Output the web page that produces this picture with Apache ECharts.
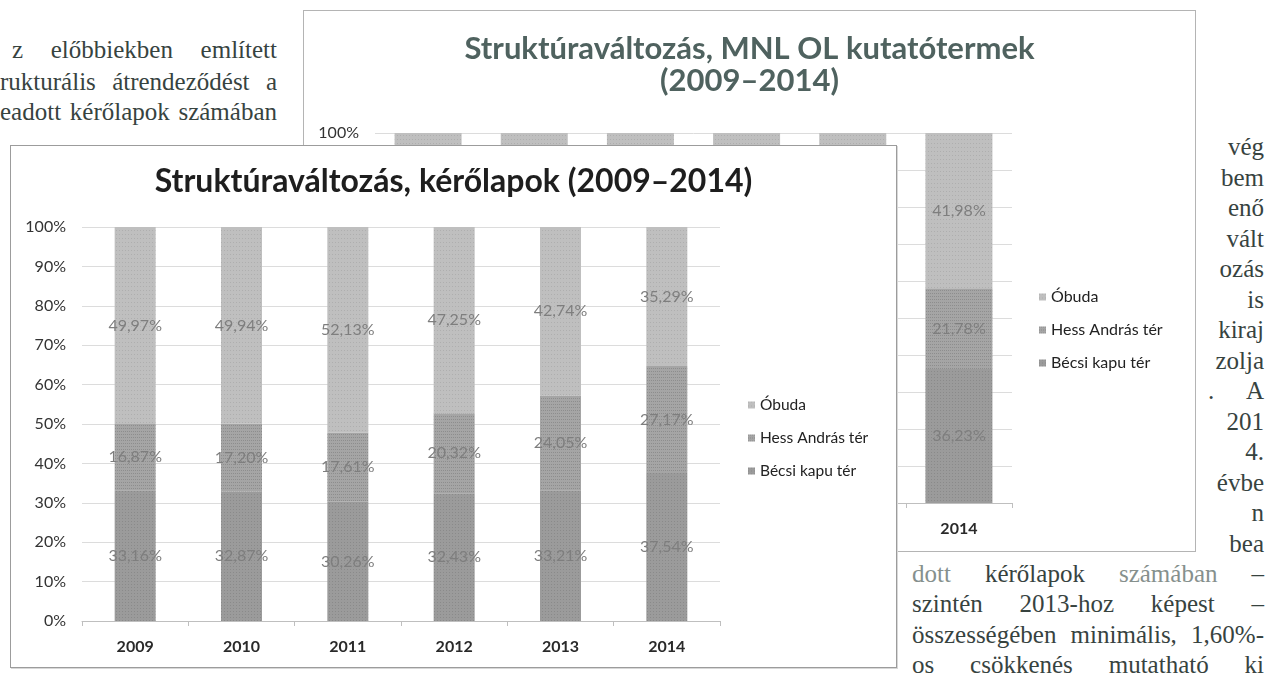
<!DOCTYPE html>
<html>
<head>
<meta charset="utf-8">
<script src="https://cdn.jsdelivr.net/npm/echarts@6/dist/echarts.min.js"></script>
<style>
  html, body { margin: 0; padding: 0; background: #fff; }
  #page { position: relative; width: 1270px; height: 693px; overflow: hidden; background: #fff; }
  .txt { position: absolute; font-family: 'Liberation Serif', serif; font-size: 25px; line-height: 30px;
         color: #37433f; white-space: nowrap; }
  .j { text-align: justify; text-align-last: justify; }
  .r { text-align: right; }
  .pale { color: #86908d; }
  #back { position: absolute; left: 303px; top: 10px; width: 893px; height: 542px;
          box-sizing: border-box; border: 1px solid #b4b4b4; background: #fff; }
  #front { position: absolute; left: 10px; top: 145px; width: 887px; height: 523px;
           box-sizing: border-box; border: 1px solid #9c9c9c; background: #fff;
           box-shadow: 1px 1px 0 #d8d8d8; }
</style>
</head>
<body>
<div id="page">
  <!-- folyószöveg a képek körül -->
  <div class="txt j" style="left:12px; top:35px; width:265px;">z előbbiekben említett</div>
  <div class="txt j" style="left:0px; top:67px; width:277px;">rukturális átrendeződést a</div>
  <div class="txt j" style="left:0px; top:97px; width:277px;">eadott kérőlapok számában</div>

  <div id="rightcol"></div>

  <div class="txt j" style="left:912px; top:559px; width:352px;"><span class="pale">dott</span> kérőlapok <span class="pale">számában</span> –</div>
  <div class="txt j" style="left:912px; top:589px; width:352px;">szintén 2013-hoz képest –</div>
  <div class="txt j" style="left:912px; top:620px; width:352px;">összességében minimális, 1,60%-</div>
  <div class="txt j" style="left:912px; top:650px; width:352px;">os csökkenés mutatható ki</div>

  <div id="back"></div>
  <div id="front"></div>
</div>

<script>
// évek
const years = ['2009', '2010', '2011', '2012', '2013', '2014'];

// kérőlapok (elől lévő ábra), %
const becsiKapu = [33.16, 32.87, 30.26, 32.43, 33.21, 37.54];
const hessAndras = [16.87, 17.20, 17.61, 20.32, 24.05, 27.17];
const obuda = [49.97, 49.94, 52.13, 47.25, 42.74, 35.29];

// MNL OL kutatótermek (hátsó ábra), %; 2009-2013 takarva, becsült
const olBecsiKapu = [33.0, 33.5, 32.0, 33.5, 34.5, 36.23];
const olHessAndras = [17.0, 17.5, 18.5, 19.5, 21.0, 21.78];
const olObuda = [50.0, 49.0, 49.5, 47.0, 44.5, 41.98];

const seriesNames = ['Bécsi kapu tér', 'Hess András tér', 'Óbuda'];
const legendOrder = ['Óbuda', 'Hess András tér', 'Bécsi kapu tér'];

// jobb oldali keskeny hasáb sorai
const rightLines = ['vég', 'bem', 'enő', 'vált', 'ozás', 'is', 'kiraj', 'zolja', '. A', '201', '4.', 'évbe', 'n', 'bea'];

const rightCol = document.getElementById('rightcol');
rightLines.forEach((w, i) => {
    const d = document.createElement('div');
    d.className = 'txt ' + (w === '. A' ? 'j' : 'r');
    d.style.left = '1208px';
    d.style.width = '56px';
    d.style.top = (132 + i * 30.5) + 'px';
    d.textContent = w;
    rightCol.appendChild(d);
});

const colors = ['#9b9b9b', '#a5a5a5', '#bfbfbf'];
const decals = [
    { symbol: 'rect', symbolSize: 1, dashArrayX: [1, 2], dashArrayY: [1, 2], color: 'rgba(60,60,60,0.18)' },
    { symbol: 'rect', symbolSize: 1, dashArrayX: [1, 1], dashArrayY: [1, 2], color: 'rgba(60,60,60,0.22)' },
    { symbol: 'rect', symbolSize: 1, dashArrayX: [1, 2], dashArrayY: [1, 3], color: 'rgba(80,80,80,0.15)' }
];

const fmtPct = p => p.value.toFixed(2).replace('.', ',') + '%';

// egy halmozott oszlopsorozat
const makeSeries = (name, data, i, barWidth) => ({
    name,
    type: 'bar',
    stack: 'total',
    barWidth,
    data,
    itemStyle: { color: colors[i], decal: decals[i] },
    label: {
        show: true,
        position: 'inside',
        formatter: fmtPct,
        fontFamily: 'Lato',
        fontSize: 16,
        color: '#7e7e7e'
    }
});

const makeOption = (titleText, titleStyle, gridCfg, legendCfg, barWidth, seriesData) => ({
    animation: false,
    title: {
        text: titleText,
        left: 'center',
        top: titleStyle.top,
        padding: 0,
        textStyle: {
            fontFamily: 'Lato',
            fontWeight: 'bold',
            fontSize: titleStyle.size,
            lineHeight: titleStyle.lineHeight,
            color: titleStyle.color
        }
    },
    grid: gridCfg,
    legend: {
        data: legendOrder,
        orient: 'vertical',
        left: legendCfg.left,
        top: legendCfg.top,
        icon: 'rect',
        itemWidth: 7,
        itemHeight: 7,
        itemGap: 17,
        padding: 0,
        textStyle: { fontFamily: 'Lato', fontSize: legendCfg.size, lineHeight: 16, color: '#222' }
    },
    xAxis: {
        type: 'category',
        data: years,
        axisLine: { lineStyle: { color: '#bfbfbf' } },
        axisTick: { show: true, length: 5, lineStyle: { color: '#bfbfbf' } },
        axisLabel: { margin: 18, fontFamily: 'Lato', fontWeight: 'bold', fontSize: 16, color: '#2a2a2a' }
    },
    yAxis: {
        type: 'value',
        min: 0,
        max: 100,
        interval: 10,
        axisLine: { show: false },
        axisTick: { show: false },
        splitLine: { lineStyle: { color: '#dcdcdc' } },
        axisLabel: { margin: 16, formatter: '{value}%', fontFamily: 'Lato', fontSize: 16, color: '#333' }
    },
    series: seriesData.map((d, i) => makeSeries(seriesNames[i], d, i, barWidth))
});

const backChart = echarts.init(document.getElementById('back'));
backChart.setOption(makeOption(
    'Struktúraváltozás, MNL OL kutatótermek\n(2009–2014)',
    { top: 22, size: 31, lineHeight: 32, color: '#4f625f' },
    { left: 71, top: 122, width: 637, height: 370 },
    { left: 735, top: 278, size: 16 },
    67,
    [olBecsiKapu, olHessAndras, olObuda]
));

const frontChart = echarts.init(document.getElementById('front'));
frontChart.setOption(makeOption(
    'Struktúraváltozás, kérőlapok (2009–2014)',
    { top: 18, size: 32, lineHeight: 36, color: '#1e1e1e' },
    { left: 71, top: 81, width: 638, height: 394 },
    { left: 737, top: 251, size: 15.5 },
    41,
    [becsiKapu, hessAndras, obuda]
));
</script>
</body>
</html>
